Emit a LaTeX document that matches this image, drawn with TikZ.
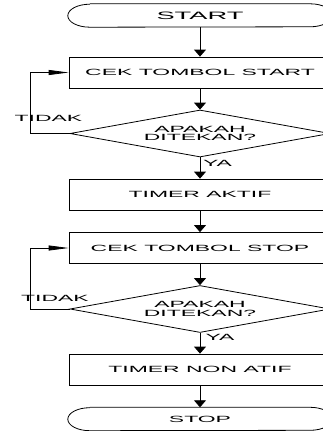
\documentclass[tikz,border=0pt]{standalone}
\usepackage{fontspec}
\newfontfamily\widesans[FakeStretch=2.55]{Liberation Sans}
\usetikzlibrary{arrows.meta,shapes.geometric}
\tikzset{
  x=1pt, y=-1pt,
  flowfont/.style={font=\fontsize{9pt}{8.5pt}\selectfont\widesans},
  process/.style={draw, rectangle, minimum width=262pt, minimum height=31pt,
    inner sep=0pt, flowfont, line width=0.8pt},
  decision/.style={draw, diamond, aspect=5.53, minimum width=260pt,
    minimum height=47pt, inner sep=0pt, flowfont, align=center, line width=0.8pt},
  terminal/.style={rectangle, minimum width=264pt, minimum height=23pt,
    inner sep=0pt, flowfont},
  lbl/.style={inner sep=0pt, flowfont},
  flow/.style={line width=0.8pt, -{Triangle[width=12pt,length=7pt]}},
  back/.style={line width=0.8pt, -{Triangle[width=5pt,length=20pt]}},
}
\newcommand{\termoutline}[1]{%
  \draw[line width=0.8pt]
    ([xshift=22pt]#1.north west) -- ([xshift=-22pt]#1.north east)
    arc[start angle=90, end angle=-90, x radius=22pt, y radius=11.5pt]
    -- ([xshift=22pt]#1.south west)
    arc[start angle=270, end angle=90, x radius=22pt, y radius=11.5pt];}
\begin{document}
\begin{tikzpicture}
\useasboundingbox (0,0) rectangle (322,431);

% nodes of the flow
\node[terminal, font=\fontsize{10.7pt}{10pt}\selectfont\widesans]
  (start) at (200,15.5) {START};
\termoutline{start}
\node[process]  (ckstart) at (200,72.5) {CEK TOMBOL START};
\node[decision] (dec1) at (200,133.5) {APAKAH\\DITEKAN?};
\node[process]  (taktif) at (200,194.5) {TIMER AKTIF};
\node[process]  (ckstop) at (200,248) {CEK TOMBOL STOP};
\node[decision] (dec2) at (200,309) {APAKAH\\DITEKAN?};
\node[process]  (tnon) at (200,369.5) {TIMER NON ATIF};
\node[terminal] (stop) at (200,419) {STOP};
\termoutline{stop}

% main flow
\draw[flow] (start) -- (ckstart);
\draw[flow] (ckstart) -- (dec1);
\draw[flow] (dec1) -- (taktif);
\draw[flow] (taktif) -- (ckstop);
\draw[flow] (ckstop) -- (dec2);
\draw[flow] (dec2) -- (tnon);
\draw[flow] (tnon) -- (stop);

% "no" loops back to the checks
\coordinate (loop1) at (30,133.5);
\coordinate (loop2) at (30,309);
\draw[back] (dec1.west) -- (loop1) |- (ckstart.west);
\draw[back] (dec2.west) -- (loop2) |- (ckstop.west);

% branch labels
\node[lbl] (no1)  at (48.5,118) {TIDAK};
\node[lbl] (yes1) at (217.5,163) {YA};
\node[lbl] (no2)  at (55,298) {TIDAK};
\node[lbl] (yes2) at (220,337) {YA};
\end{tikzpicture}
\end{document}
